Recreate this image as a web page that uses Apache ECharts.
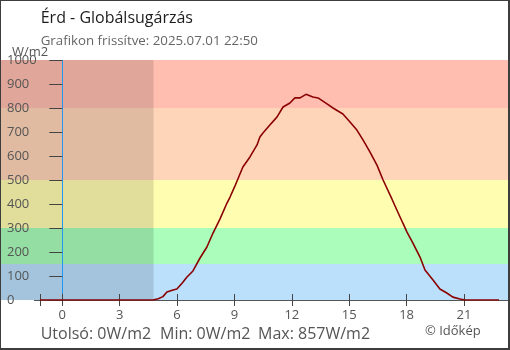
<!DOCTYPE html>
<html><head><meta charset="utf-8">
<script src="https://cdn.jsdelivr.net/npm/echarts@6/dist/echarts.min.js"></script>
<style>
html,body{margin:0;padding:0;background:#fff}
#c{width:510px;height:350px;box-sizing:border-box;border-style:solid;border-color:#3d3d3d;border-width:1px 2px 2px 1px}
</style>
</head><body><div id="c"></div>
<script>
// ---- data ----
const hours = [-1.17, 4.74, 5.02, 5.26, 5.47, 5.79, 5.99, 6.26, 6.52, 6.83, 7.20, 7.56, 7.88, 8.24, 8.61, 8.77, 9.00, 9.44, 9.81, 10.18, 10.33, 10.49, 10.85, 11.22, 11.54, 11.90, 12.16, 12.43, 12.74, 13.10, 13.37, 13.84, 14.15, 14.67, 15.04, 15.40, 15.72, 16.08, 16.45, 16.77, 17.23, 17.49, 17.80, 18.02, 18.33, 18.70, 18.96, 19.38, 19.74, 20.10, 20.42, 20.79, 21.05, 22.83];
const radiation = [0, 0, 5, 14, 33, 42, 46, 70, 96, 121, 175, 221, 279, 337, 404, 429, 470, 554, 596, 646, 679, 696, 729, 762, 804, 821, 842, 842, 857, 846, 842, 817, 800, 775, 742, 708, 667, 617, 562, 500, 421, 375, 321, 283, 237, 179, 125, 83, 46, 29, 12, 4, 0, 0];
const tickHours = [-1.1667, 0, 3, 6, 9, 12, 15, 18, 21];
const labelHours = [0, 3, 6, 9, 12, 15, 18, 21];
const bandLimits = [0, 150, 300, 500, 800, 1000];
const nightEnd = 4.77;
const nowHour = 0;
const title = 'Érd - Globálsugárzás';
const subtitle = 'Grafikon frissítve: 2025.07.01 22:50';
const unit = 'W/m2';
const statLabels = ['Utolsó: 0W/m2', 'Min: 0W/m2', 'Max: 857W/m2'];
const credit = '© Időkép';

// ---- chart ----
const X_MIN = -3.204, X_MAX = 23.30;
const bandColors = ['#bae0fb', '#aafdba', '#fffdb0', '#ffd5b9', '#ffbeb0'];
const FONT = '"Open Sans", "Noto Sans", sans-serif';
const chart = echarts.init(document.getElementById('c'), null, {renderer: 'canvas'});

const bands = [];
for (let i = 0; i < bandLimits.length - 1; i++) {
  bands.push([{yAxis: bandLimits[i], itemStyle: {color: bandColors[i]}}, {yAxis: bandLimits[i + 1]}]);
}

const statX = [39.7, 159, 257];
const graphics = [
  {type: 'text', x: 39.7, y: 17, style: {text: title, font: '16px ' + FONT, fill: '#1c1c1c', verticalAlign: 'middle'}},
  {type: 'text', x: 39.7, y: 40, style: {text: subtitle, font: '13.3px ' + FONT, fill: '#666', verticalAlign: 'middle'}},
  {type: 'text', x: 11, y: 51, z: 100, style: {text: unit, font: '13px ' + FONT, fill: '#555', verticalAlign: 'middle'}},
  {type: 'text', x: 424, y: 330, style: {text: credit, font: '13px ' + FONT, fill: '#555', verticalAlign: 'middle'}}
];
statLabels.forEach((s, i) => graphics.push({type: 'text', x: statX[i], y: 333, style: {text: s, font: '16px ' + FONT, fill: '#555', verticalAlign: 'middle'}}));

chart.setOption({
  animation: false,
  grid: {left: 0, right: 0, top: 59, bottom: 48, outerBoundsMode: 'none', containLabel: false},
  xAxis: [
    {type: 'value', min: X_MIN, max: X_MAX, position: 'bottom', z: 10,
     axisLine: {show: false}, splitLine: {show: false},
     axisTick: {show: true, length: 6, lineStyle: {color: '#444'}, customValues: tickHours},
     axisLabel: {show: true, customValues: labelHours, color: '#555', fontSize: 13, fontFamily: FONT, margin: 9, formatter: v => String(v)}},
    {type: 'value', min: X_MIN, max: X_MAX, position: 'bottom', z: 10,
     axisLine: {show: false}, splitLine: {show: false},
     axisTick: {show: true, inside: true, length: 6, lineStyle: {color: '#444'}, customValues: tickHours},
     axisLabel: {show: false}}
  ],
  yAxis: {type: 'value', min: 0, max: 1000, interval: 100, position: 'left', offset: -46, z: 10,
    axisLine: {show: false}, splitLine: {show: false},
    axisTick: {show: true, length: 13, lineStyle: {color: '#444'}},
    axisLabel: {align: 'left', margin: 40, color: '#555', fontSize: 13, fontFamily: FONT, formatter: v => String(v)}},
  graphic: graphics,
  series: [
    {type: 'line', xAxisIndex: 1, data: [], silent: true, z: 1,
     markArea: {silent: true, data: bands.concat([[{xAxis: X_MIN, itemStyle: {color: 'rgba(0,0,0,0.12)'}}, {xAxis: nightEnd}]])}},
    {type: 'line', xAxisIndex: 0, z: 12, silent: true, showSymbol: false,
     data: hours.map((h, i) => [h, radiation[i]]),
     lineStyle: {color: '#8b0000', width: 1.6},
     markLine: {silent: true, symbol: 'none', label: {show: false},
       data: [
         {xAxis: nowHour, lineStyle: {color: '#2196f3', width: 1, type: 'solid'}},
         [{coord: [-1.48, 0], lineStyle: {color: '#555', width: 1, type: 'solid'}}, {coord: [X_MAX, 0]}]
       ]}}
  ]
});
</script></body></html>
